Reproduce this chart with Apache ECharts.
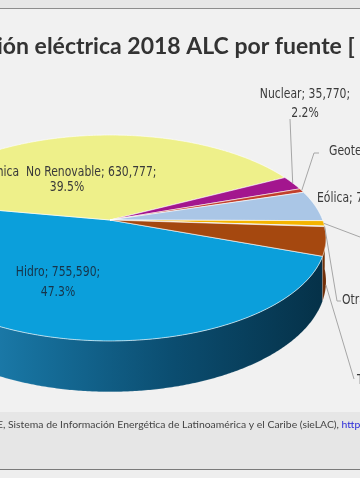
<!DOCTYPE html>
<html><head><meta charset="utf-8">
<script src="https://cdn.jsdelivr.net/npm/echarts@6/dist/echarts.min.js"></script>
<style>html,body{margin:0;padding:0;background:#f1f1f1}#c{width:360px;height:478px}</style>
</head><body><div id="c"></div>
<script>
// ---- data ----
const categories = ['Hidro', 'Térmica  No Renovable', 'Nuclear', 'Geotermia', 'Eólica', 'Solar', 'Otras', 'Térmica Renovable'];
const values = [755590, 630777, 35770, 10240, 76910, 13560, 1500, 72000];
const titleText = 'Generación eléctrica 2018 ALC por fuente [ GWh ]';
const sourceLead = 'Fuente: OLADE, Sistema de Información Energética de Latinoamérica y el Caribe (sieLAC), ';
const sourceLink = 'http://sielac.olade.org/';

// ---- style / layout ----
const topColors = ['#0b9fdb', '#eef08a', '#a3168e', '#c2402c', '#aac6e6', '#f4b400', '#8a8a8a', '#a5480f'];
const sideColors = ['#0a5a85', '#b9bb5a', '#6e0d60', '#80261a', '#7390b3', '#b38300', '#5a5a5a', '#6f2e08'];
const PIE = { cx: 110, cy: 220, R: 212.7, t: 0.4692, p: 0.1747, h: 42, start: 20 };
const labelLayout = [
  { x: 58, y: 272, align: 'center', lh: 20, lines: 2, color: '#17344a' },
  { x: 67, y: 172, align: 'center', lh: 15, lines: 2, color: '#3a3a3a' },
  { x: 305, y: 94, align: 'center', lh: 19, lines: 2, color: '#3a3a3a', leader: [[290, 119]] },
  { x: 329, y: 151, align: 'left', lh: 19, lines: 2, color: '#3a3a3a', leader: [[314, 153], [319, 153]] },
  { x: 317, y: 198, align: 'left', lh: 19, lines: 1, color: '#3a3a3a' },
  { x: 364, y: 238, align: 'left', lh: 19, lines: 2, color: '#3a3a3a', leader: [[360, 237]] },
  { x: 342, y: 300, align: 'left', lh: 19, lines: 2, color: '#3a3a3a', leader: [[337, 301], [341, 301]] },
  { x: 357, y: 380, align: 'left', lh: 19, lines: 2, color: '#3a3a3a', leader: [[354, 379]], fromSide: true }
];
const LABEL_FONT = '14px "DejaVu Sans Condensed", "DejaVu Sans", sans-serif';
const LABEL_SX = 0.86;

const total = values.reduce((a, b) => a + b, 0);
const spans = values.map(v => v / total * 360);
const starts = [];
spans.reduce((acc, s, i) => { starts[i] = acc; return acc + s; }, PIE.start);

function proj(deg, r, dz) {
  const a = deg * Math.PI / 180;
  const c = Math.cos(a), s = Math.sin(a);
  const k = 1 / (1 - PIE.p * r * s);
  return [PIE.cx + PIE.R * r * c * k, PIE.cy + PIE.R * PIE.t * r * s * k + (dz || 0) * k];
}
function arc(a0, a1, dz) {
  const pts = [];
  const n = Math.max(2, Math.ceil(Math.abs(a1 - a0) / 0.5));
  for (let i = 0; i <= n; i++) pts.push(proj(a0 + (a1 - a0) * i / n, 1, dz));
  return pts;
}
function fmt(v) { return v.toLocaleString('en-US'); }
const mctx = document.createElement('canvas').getContext('2d');
function measure(t, font) { mctx.font = font; return mctx.measureText(t).width; }

function renderSide(params, api) {
  const i = params.dataIndex;
  const a0 = starts[i], a1 = starts[i] + spans[i];
  const children = [];
  [[0, 180], [360, 540]].forEach(([lo, hi]) => {
    const s = Math.max(a0, lo), e = Math.min(a1, hi);
    if (e > s) {
      const topArc = arc(s, e, 0);
      const botArc = arc(s, e, PIE.h).reverse();
      let fill = sideColors[i];
      if (i === 0) {
        fill = new echarts.graphic.LinearGradient(0, 0, 1, 0, [
          { offset: 0, color: '#2a93c8' }, { offset: 0.3, color: '#17729f' },
          { offset: 0.65, color: '#0b4d70' }, { offset: 1, color: '#053148' }
        ]);
      }
      children.push({ type: 'polygon', shape: { points: topArc.concat(botArc) },
        style: { fill: fill, stroke: 'rgba(255,255,255,0.25)', lineWidth: 0.5 } });
    }
  });
  return { type: 'group', children };
}
function renderTop(params, api) {
  const i = params.dataIndex;
  const pts = [[PIE.cx, PIE.cy]].concat(arc(starts[i], starts[i] + spans[i], 0));
  return { type: 'polygon', shape: { points: pts },
    style: { fill: topColors[i], stroke: 'rgba(255,255,255,0.75)', lineWidth: 0.8, lineJoin: 'round' } };
}
function txt(x, y, text, color, align) {
  return { type: 'text', x: x, y: y, scaleX: LABEL_SX, style: { text: text, fill: color,
    font: LABEL_FONT, align: align, verticalAlign: 'middle' } };
}
function renderLabel(params, api) {
  const i = params.dataIndex;
  const L = labelLayout[i];
  const mid = starts[i] + spans[i] / 2;
  const children = [];
  const pct = (values[i] / total * 100).toFixed(1) + '%';
  const line1 = categories[i] + '; ' + fmt(values[i]) + ';';
  if (L.leader) {
    const from = proj(mid, 1, L.fromSide ? PIE.h : 0);
    children.push({ type: 'polyline', shape: { points: [from].concat(L.leader) },
      style: { stroke: '#a6a6a6', lineWidth: 1, fill: null } });
  }
  if (L.lines === 1) {
    children.push(txt(L.x, L.y, line1 + ' ' + pct, L.color, L.align));
  } else if (L.align === 'center') {
    children.push(txt(L.x, L.y, line1, L.color, 'center'));
    children.push(txt(L.x, L.y + L.lh, pct, L.color, 'center'));
  } else {
    const w = measure(line1, LABEL_FONT) * LABEL_SX;
    children.push(txt(L.x, L.y, line1, L.color, 'left'));
    children.push(txt(L.x + w / 2, L.y + L.lh, pct, L.color, 'center'));
  }
  return { type: 'group', children };
}

const TITLE_FONT = 'bold 23px Lato, sans-serif';
const SRC_FONT = '10.4px Lato, sans-serif';
const titleX = -measure('Generac', TITLE_FONT) - 3;
const srcX = -measure('Fuente: OLAD', SRC_FONT) - 3;
const linkX = srcX + measure(sourceLead, SRC_FONT);

const chart = echarts.init(document.getElementById('c'), null, { renderer: 'canvas' });
chart.setOption({
  backgroundColor: '#f1f1f1',
  animation: false,
  graphic: [
    { type: 'rect', shape: { x: 0, y: 0, width: 360, height: 8 }, style: { fill: '#e7e7e7' }, z: 0 },
    { type: 'line', shape: { x1: 0, y1: 8.5, x2: 360, y2: 8.5 }, style: { stroke: '#8d8d8d', lineWidth: 1 }, z: 0 },
    { type: 'rect', shape: { x: 0, y: 412, width: 360, height: 57 }, style: { fill: '#e6e6e6' }, z: 0 },
    { type: 'line', shape: { x1: 0, y1: 469.5, x2: 360, y2: 469.5 }, style: { stroke: '#7a7a7a', lineWidth: 1 }, z: 0 },
    { type: 'rect', shape: { x: 0, y: 470, width: 360, height: 8 }, style: { fill: '#eeeeee' }, z: 0 },
    { type: 'text', x: titleX, y: 47, style: { text: titleText, font: TITLE_FONT, fill: '#333333', verticalAlign: 'middle' }, z: 5 },
    { type: 'text', x: srcX, y: 425, style: { text: sourceLead, font: SRC_FONT, fill: '#444444', verticalAlign: 'middle' }, z: 5 },
    { type: 'text', x: linkX, y: 425, style: { text: sourceLink, font: SRC_FONT, fill: '#2b2bd9', verticalAlign: 'middle' }, z: 5 }
  ],
  series: [
    { type: 'custom', coordinateSystem: 'none', renderItem: renderSide, data: values, z: 1, silent: true },
    { type: 'custom', coordinateSystem: 'none', renderItem: renderTop, data: values, z: 2, silent: true },
    { type: 'custom', coordinateSystem: 'none', renderItem: renderLabel, data: values, z: 3, silent: true }
  ]
});
</script></body></html>
